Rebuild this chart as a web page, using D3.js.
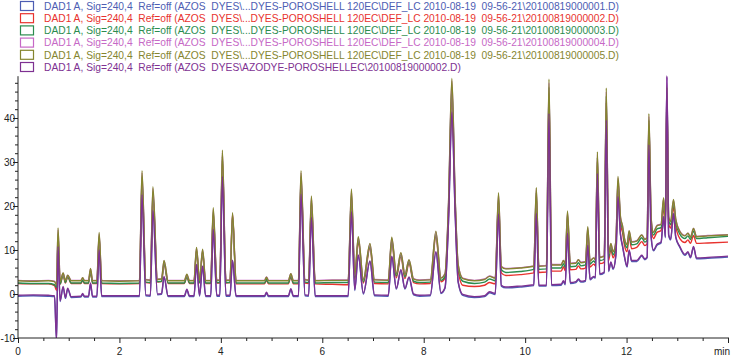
<!DOCTYPE html>
<html>
<head>
<meta charset="utf-8">
<script src="https://cdn.jsdelivr.net/npm/d3@7"></script>
<style>
  html, body { margin: 0; padding: 0; background: #fff; }
  svg { display: block; font-family: "Liberation Sans", Arial, sans-serif; }
</style>
</head>
<body>
<svg id="chart" width="731" height="358"></svg>
<script>
// ---- Data ----
const legendLabels = [
  "DAD1 A, Sig=240,4  Ref=off (AZOS  DYES\\...DYES-POROSHELL 120EC\\DEF_LC 2010-08-19  09-56-21\\20100819000001.D)",
  "DAD1 A, Sig=240,4  Ref=off (AZOS  DYES\\...DYES-POROSHELL 120EC\\DEF_LC 2010-08-19  09-56-21\\20100819000002.D)",
  "DAD1 A, Sig=240,4  Ref=off (AZOS  DYES\\...DYES-POROSHELL 120EC\\DEF_LC 2010-08-19  09-56-21\\20100819000003.D)",
  "DAD1 A, Sig=240,4  Ref=off (AZOS  DYES\\...DYES-POROSHELL 120EC\\DEF_LC 2010-08-19  09-56-21\\20100819000004.D)",
  "DAD1 A, Sig=240,4  Ref=off (AZOS  DYES\\...DYES-POROSHELL 120EC\\DEF_LC 2010-08-19  09-56-21\\20100819000005.D)",
  "DAD1 A, Sig=240,4  Ref=off (AZOS  DYES\\AZODYE-POROSHELLEC\\20100819000002.D)"
];
const seriesColors = ["#4d5db3", "#e8322e", "#2b8c4f", "#c668c6", "#85852f", "#7e3192"];
const xTicks = [0, 2, 4, 6, 8, 10, 12];
const yTicks = [-10, 0, 10, 20, 30, 40];

const times = [0,0.3,0.6,0.72,0.76,0.79,0.83,0.89,0.935,0.98,1.05,1.24,1.275,1.31,1.39,1.43,1.47,1.555,1.6,1.65,
  2.0,2.395,2.445,2.52,2.61,2.66,2.75,2.83,2.88,2.96,3.28,3.33,3.38,3.47,3.52,3.58,3.64,3.7,3.8,3.85,
  3.92,3.98,4.03,4.1,4.18,4.23,4.3,4.86,4.9,4.94,5.33,5.38,5.43,5.53,5.58,5.66,5.73,5.785,5.86,6.2,
  6.51,6.575,6.64,6.71,6.81,6.94,7.03,7.3,7.37,7.46,7.55,7.63,7.71,7.8,7.92,8.13,8.24,8.34,8.42,8.49,
  8.555,8.62,8.68,8.77,9.0,9.2,9.3,9.41,9.475,9.53,9.62,9.9,10.17,10.22,10.27,10.42,10.47,10.52,10.71,10.755,
  10.79,10.835,10.89,11.0,11.05,11.1,11.19,11.235,11.28,11.35,11.385,11.425,11.47,11.56,11.6,11.645,11.69,11.735,11.79,11.83,
  11.88,11.92,11.96,12.01,12.05,12.1,12.2,12.3,12.36,12.405,12.44,12.485,12.53,12.6,12.68,12.73,12.765,12.795,12.83,12.87,
  12.925,12.97,13.05,13.15,13.21,13.26,13.32,13.38,13.6,14.0];

const oliveValues = [3.0,2.9,3.0,2.8,2.0,15,2.8,4.8,3.0,4.3,3.0,3.0,3.7,3.0,3.0,5.8,3.0,3.0,14.0,3.0,
  2.9,3.0,28,3.2,3.1,24.4,3.3,3.4,7.6,3.0,3.0,4.5,3.0,3.0,10.6,3.1,10.2,3.0,3.0,19.6,
  3.1,3.1,32.7,3.1,3.1,18.5,3.0,3.0,3.8,3.0,3.0,4.6,3.0,3.0,28,3.2,3.1,22.3,3.0,3.1,
  3.1,23.9,4.1,13.0,3.3,11.5,3.2,3.1,12.9,4.6,9.4,4.4,7.8,3.4,3.1,3.2,14.3,3.6,4.6,21,
  49,22,6.6,3.5,3.0,3.3,4.0,3.6,23,6.2,5.7,5.9,6.3,24.2,6.3,6.4,48.8,6.6,6.6,7.6,
  6.8,18.9,6.9,7.0,7.8,7.1,7.3,15.3,7.5,8.2,7.8,32.3,8.3,8.6,46.8,9.0,11.5,9.6,12,26.7,
  17.5,15.5,12.5,11.2,14.4,11.8,12.0,13.4,12.4,12.8,41,17.2,14.0,15.5,15.8,21.9,16.5,47,17.5,16.5,
  21.5,17,14.2,13.2,13.8,12.9,14.9,13.0,13.2,13.4];

const pinkValues = [3.1,3.0,3.1,2.9,2.2,14.6,3.0,4.7,3.1,4.3,3.1,3.1,3.7,3.1,3.1,5.7,3.1,3.1,13.6,3.1,
  3.0,3.1,27.5,3.3,3.2,24,3.4,3.5,7.5,3.1,3.1,4.4,3.1,3.1,10.4,3.2,10.0,3.1,3.1,19.2,
  3.2,3.2,32.2,3.2,3.2,18.2,3.1,3.1,3.9,3.1,3.1,4.6,3.1,3.1,27.5,3.3,3.2,22,3.1,3.2,
  3.2,23.5,4.2,12.8,3.4,11.3,3.3,3.2,12.7,4.7,9.3,4.5,7.7,3.5,3.2,3.3,14.1,3.7,4.7,20.6,
  48.5,21.7,6.7,3.6,3.1,3.4,4.1,3.7,22.6,6.3,5.8,6.0,6.4,23.8,6.4,6.5,48,6.7,6.7,7.6,
  6.9,18.5,7.0,7.1,7.8,7.2,7.4,15.0,7.6,8.2,7.9,31.8,8.4,8.7,46,9.1,11.4,9.7,12,26.3,
  17.4,15.5,12.6,11.3,14.3,11.9,12.1,13.4,12.5,12.9,40.4,17.1,14.1,15.6,15.9,21.6,16.6,49.3,17.4,16.6,
  21.3,17,14.3,13.3,13.8,13.0,14.9,13.1,13.3,13.5];

const greenValues = [2.5,2.4,2.4,2.1,1.5,13.6,2.3,4.4,2.6,4.0,2.5,2.5,3.2,2.5,2.5,5.3,2.5,2.5,13.0,2.5,
  2.4,2.5,26.5,2.7,2.6,23,2.8,2.9,7.0,2.5,2.5,4.0,2.5,2.5,10.0,2.6,9.6,2.5,2.5,18.6,
  2.6,2.6,31.2,2.6,2.6,17.6,2.5,2.5,3.3,2.5,2.5,4.1,2.5,2.5,26.6,2.7,2.6,21.2,2.5,2.6,
  2.6,22.7,3.6,12.3,2.8,10.8,2.7,2.6,12.2,4.1,8.9,3.9,7.3,2.9,2.6,2.7,13.5,3.1,4.0,19.8,
  47,21,6.0,2.9,2.4,2.7,3.4,3.0,21.8,5.5,4.9,5.1,5.6,23,5.6,5.7,47,5.9,5.9,6.9,
  6.0,18.0,6.2,6.3,7.1,6.4,6.6,14.5,6.8,7.5,7.1,31,7.6,7.9,45,8.3,10.8,8.9,11.3,25.6,
  16.7,14.8,11.8,10.5,13.8,11.2,11.4,12.8,11.8,12.2,39.5,16.5,13.4,14.8,15.1,21,15.8,46,16.8,15.8,
  20.7,16.3,13.6,12.6,13.2,12.4,14.3,12.6,12.8,13.1];

const redValues = [2.4,2.3,2.3,1.9,0.8,12.6,2.2,4.3,2.5,3.9,2.4,2.4,3.1,2.4,2.4,5.2,2.4,2.4,12.6,2.4,
  2.3,2.4,25.5,2.6,2.5,22,2.7,2.8,6.8,2.4,2.4,3.9,2.4,2.4,9.7,2.5,9.3,2.4,2.4,18.0,
  2.5,2.5,30.3,2.5,2.6,18.0,2.3,2.3,3.1,2.3,2.3,3.9,2.3,2.3,25.7,2.5,2.4,20.4,2.3,2.2,
  2.1,21.8,3.3,11.8,2.5,10.4,2.4,2.3,11.8,3.7,8.5,3.5,7.0,2.6,2.3,2.4,13.0,2.8,3.6,19.0,
  45,20,5.2,2.0,1.7,2.0,2.6,2.3,21,4.8,4.2,4.4,4.8,22,4.9,5.0,45.5,5.2,5.2,6.2,
  5.3,17.2,5.5,5.6,6.4,5.7,5.9,13.8,6.1,6.8,6.4,30,6.9,7.2,43.5,7.6,10.2,8.2,10.6,24.8,
  16,14,11,9.6,13,10.3,10.6,11.9,11.0,11.4,38.5,15.7,12.6,14.0,14.4,20,15,44.5,16,15,
  19.8,15.4,12.6,11.7,12.3,11.5,13.3,11.5,11.6,11.8];

const purpleValues = [-0.3,-0.2,-0.3,-0.4,-10.5,10.8,-1.5,1.7,-0.8,1.3,-0.6,-0.5,0.1,-0.5,-0.5,2.5,-0.5,-0.5,10.0,-0.4,
  -0.4,-0.4,22.5,-0.2,-0.3,19,0.0,0.1,4.0,-0.4,-0.4,1.1,-0.4,-0.4,6.7,-0.3,6.4,-0.4,-0.4,14.7,
  -0.3,-0.3,26.7,-0.3,-0.3,7.7,-0.4,-0.4,0.4,-0.4,-0.4,1.2,-0.4,-0.4,22.7,-0.2,-0.3,17.4,-0.4,-0.4,
  -0.4,18.7,1.0,8.9,0.2,7.5,-0.2,-0.3,8.6,1.3,5.5,1.3,3.9,0.0,-0.3,-0.2,9.6,0.3,1.5,17.0,
  41.4,18.5,2.8,-0.1,-0.6,-0.4,0.5,0.1,18.2,2.0,1.6,1.8,2.1,18.3,2.0,2.0,41,2.1,2.2,3.0,
  2.3,13.8,2.6,2.8,3.4,2.9,3.1,11.1,3.4,4.0,3.8,27.4,4.6,5.0,39.5,5.3,7.3,5.8,9,22.1,
  13.6,11,8.5,6.3,10,7.6,7.6,8.8,8.0,8.4,33.9,13.0,10.0,11.3,11.8,17.6,13,49.6,13.5,12.5,
  18.3,13,10.8,9.0,9.6,8.4,10.8,8.2,8.3,8.6];

const blueValues = [-0.5,-0.4,-0.5,-0.6,-10.5,10.5,-1.7,1.5,-1.0,1.1,-0.8,-0.7,-0.1,-0.7,-0.7,2.3,-0.7,-0.7,9.8,-0.6,
  -0.6,-0.6,22.2,-0.4,-0.5,18.8,-0.2,-0.1,3.8,-0.6,-0.6,0.9,-0.6,-0.6,6.5,-0.5,6.2,-0.6,-0.6,14.5,
  -0.5,-0.5,26.4,-0.5,-0.5,7.5,-0.6,-0.6,0.2,-0.6,-0.6,1.0,-0.6,-0.6,22.4,-0.4,-0.5,17.2,-0.6,-0.6,
  -0.6,18.5,0.8,8.7,0.0,7.3,-0.4,-0.5,8.4,1.1,5.3,1.1,3.7,-0.2,-0.5,-0.4,9.4,0.1,1.3,16.8,
  41,18.3,2.6,-0.3,-0.8,-0.6,0.3,-0.1,18,1.8,1.4,1.6,1.9,18.1,1.8,1.8,40.8,1.9,2.0,2.8,
  2.1,13.6,2.4,2.6,3.2,2.7,2.9,10.9,3.2,3.8,3.6,27.2,4.4,4.8,39.3,5.1,7.1,5.6,8.8,21.9,
  13.4,10.8,8.3,6.1,9.8,7.4,7.4,8.6,7.8,8.2,33.7,12.8,9.8,11.1,11.6,17.4,12.8,49.3,13.3,12.3,
  18.1,12.8,10.6,8.8,9.4,8.2,10.6,8.0,8.1,8.4];

// draw order: blue, red, green, pink, olive, purple (purple on top)
const seriesValues = [blueValues, redValues, greenValues, pinkValues, oliveValues, purpleValues];

// ---- Layout ----
const svg = d3.select("#chart");
const x = d3.scaleLinear().domain([0, 14]).range([18, 728]);
const y = d3.scaleLinear().domain([-10, 50]).range([338, 74]);
const axisColor = "#222";

svg.append("defs").append("clipPath").attr("id", "plotclip")
  .append("rect").attr("x", 18).attr("y", 70).attr("width", 713).attr("height", 268);

// traces
const line = d3.line()
  .x((d, i) => x(times[i]))
  .y(d => y(d))
  .curve(d3.curveMonotoneX);

const traces = svg.append("g").attr("clip-path", "url(#plotclip)");
seriesValues.forEach((vals, k) => {
  traces.append("path")
    .datum(vals)
    .attr("d", line)
    .attr("fill", "none")
    .attr("stroke", seriesColors[k])
    .attr("stroke-width", 1.4)
    .attr("stroke-linejoin", "round");
});

// x axis
const xAxisG = svg.append("g").attr("transform", "translate(0,338)");
xAxisG.call(d3.axisBottom(x).tickValues(d3.range(0, 14.01, 0.5)).tickSize(3).tickFormat(""));
xAxisG.call(g => g.selectAll(".tick line").filter(d => Math.abs(d % 2) < 1e-9).attr("y2", 5));
xAxisG.append("g").selectAll("text").data(xTicks).join("text")
  .attr("x", d => x(d)).attr("y", 17)
  .attr("text-anchor", "middle").attr("font-size", 10).attr("fill", axisColor)
  .text(d => d);
xAxisG.append("text").attr("x", 722).attr("y", 17).attr("text-anchor", "middle")
  .attr("font-size", 10).attr("fill", axisColor).text("min");
xAxisG.select(".domain").attr("d", `M18,0H729`);
xAxisG.selectAll("line, path").attr("stroke", axisColor);

// y axis
const yAxisG = svg.append("g").attr("transform", "translate(18,0)");
yAxisG.call(d3.axisLeft(y).tickValues(d3.range(-10, 48.01, 2)).tickSize(3).tickFormat(""));
yAxisG.call(g => g.selectAll(".tick line").filter(d => Math.abs(d % 10) < 1e-9).attr("x2", -5));
yAxisG.append("g").selectAll("text").data(yTicks).join("text")
  .attr("x", -3).attr("y", d => y(d) + 4)
  .attr("text-anchor", "end").attr("font-size", 10).attr("fill", axisColor)
  .text(d => d);
yAxisG.select(".domain").attr("d", `M0,${y(-10)}V${y(49.5)}`);
yAxisG.selectAll("line, path").attr("stroke", axisColor);

// legend
const legend = svg.append("g");
legendLabels.forEach((lab, i) => {
  const cy = 6 + i * 12.2;
  legend.append("rect")
    .attr("x", 20.5).attr("y", cy - 4.5).attr("width", 13).attr("height", 9)
    .attr("fill", "#fff").attr("stroke", seriesColors[i]).attr("stroke-width", 1.2);
  legend.append("text")
    .attr("x", 44).attr("y", cy + 3.7)
    .attr("font-size", 10.25).attr("fill", seriesColors[i])
    .style("white-space", "pre")
    .attr("xml:space", "preserve")
    .text(lab);
});
</script>
</body>
</html>
